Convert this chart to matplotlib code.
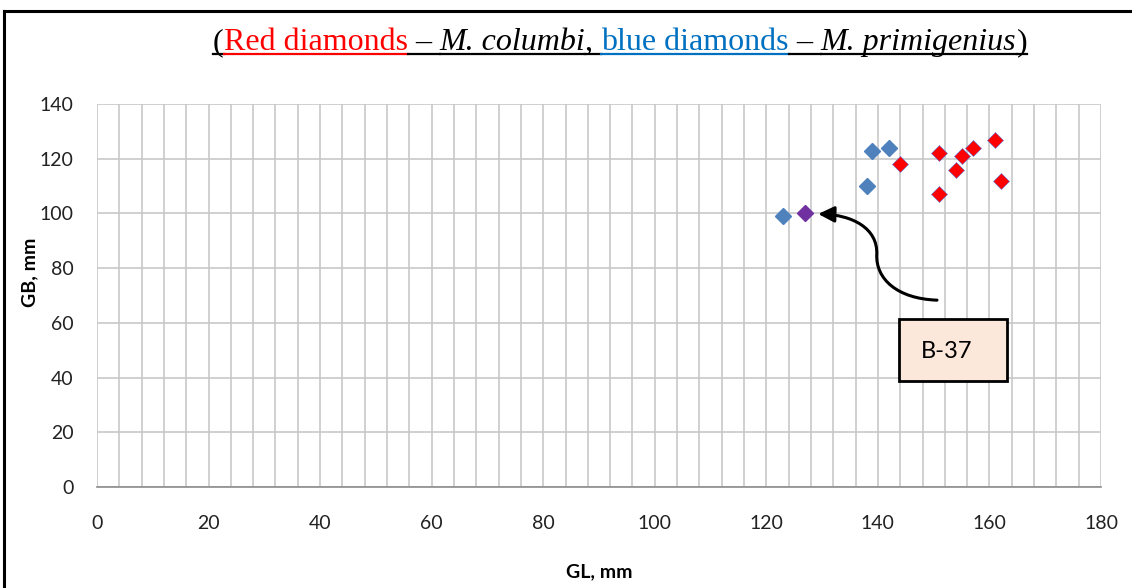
import matplotlib
matplotlib.use("Agg")
import matplotlib.pyplot as plt
from matplotlib.path import Path
from matplotlib.patches import FancyArrowPatch, Rectangle
from matplotlib.lines import Line2D

# M. columbi (red), M. primigenius (blue), B-37 (purple)
red_gl = [144, 151, 151, 154, 155, 157, 161, 162]
red_gb = [118, 122, 107, 116, 121, 124, 127, 112]
blue_gl = [123, 138, 139, 142]
blue_gb = [99, 110, 123, 124]
b37_gl = [127]
b37_gb = [100]

W, H = 1132, 588
fig = plt.figure(figsize=(W / 100, H / 100), dpi=100)
ax = fig.add_axes([97 / W, 1 - 487 / H, (1101 - 97) / W, (487 - 104) / H])

ax.plot(blue_gl, blue_gb, "D", color="#4F81BD", markersize=8.5,
        markeredgecolor="#4F81BD", zorder=3, clip_on=False)
ax.plot(red_gl, red_gb, "D", color="#FF0000", markersize=8.5,
        markeredgecolor="#5B6FD0", markeredgewidth=0.4, zorder=3, clip_on=False)
ax.plot(b37_gl, b37_gb, "D", color="#7030A0", markersize=8.5,
        markeredgecolor="#7030A0", zorder=3, clip_on=False)

ax.set_xlim(0, 180)
ax.set_ylim(0, 140)
ax.set_xticks(range(0, 181, 20))
ax.set_xticks(range(0, 181, 4), minor=True)
ax.set_yticks(range(0, 141, 20))
ax.grid(which="both", color="#C8C8C8", linewidth=1.2)
ax.set_axisbelow(True)
ax.tick_params(which="both", length=0)
ax.tick_params(axis="x", pad=20, labelsize=14)
ax.tick_params(axis="y", pad=17, labelsize=14)
for lbl in ax.get_xticklabels() + ax.get_yticklabels():
    lbl.set_family("Lato")
    lbl.set_color("#222222")
for side in ["top", "right", "left"]:
    ax.spines[side].set_visible(False)
ax.spines["bottom"].set_color("#8C8C8C")
ax.spines["bottom"].set_linewidth(1.2)

# axis titles
fig.text(599 / W, 1 - 572 / H, "GL, mm", fontsize=14, fontweight="bold",
         family="Lato", ha="center", va="center")
fig.text(30 / W, 1 - 272 / H, "GB, mm", fontsize=14, fontweight="bold",
         family="Lato", ha="center", va="center", rotation=90)

# curved arrow pointing at B-37
verts = [(150.6, 68.3), (143.5, 68.8), (139.6, 76.0), (139.8, 85.0),
         (140.0, 94.5), (135.5, 99.5), (129.3, 99.8)]
codes = [Path.MOVETO] + [Path.CURVE4] * 6
arrow = FancyArrowPatch(path=Path(verts, codes), arrowstyle="-|>",
                        mutation_scale=24, color="black", linewidth=2.2, zorder=4)
ax.add_patch(arrow)

# B-37 callout box
fig.add_artist(Rectangle((899 / W, 1 - 381 / H), 108 / W, 62 / H, transform=fig.transFigure,
                         facecolor="#FCE8DA", edgecolor="black", linewidth=2, zorder=5))
fig.text(947 / W, 1 - 351 / H, "B-37", fontsize=17, family="Lato",
         ha="center", va="center", zorder=6)

# figure frame (top and left)
fig.add_artist(Line2D([4 / W, 4 / W], [0, 1 - 11 / H], color="black", linewidth=2.2,
                      transform=fig.transFigure))
fig.add_artist(Line2D([4 / W, 1], [1 - 11 / H, 1 - 11 / H], color="black", linewidth=2.2,
                      transform=fig.transFigure))

# title with coloured, underlined pieces
pieces = [("(", "black", "normal"),
          ("Red diamonds", "#FF0000", "normal"),
          (" \u2013 ", "black", "normal"),
          ("M. columbi", "black", "italic"),
          (", ", "black", "normal"),
          ("blue diamonds", "#0070C0", "normal"),
          (" \u2013 ", "black", "normal"),
          ("M. primigenius", "black", "italic"),
          (")", "black", "normal")]
fig.canvas.draw()
renderer = fig.canvas.get_renderer()
x = 213
base_y = H - 50
for txt, col, style in pieces:
    t = fig.text(x / W, base_y / H, txt, color=col, style=style, fontsize=23,
                 family="Liberation Serif", va="baseline", ha="left")
    bb = t.get_window_extent(renderer)
    fig.add_artist(Line2D([x / W, (x + bb.width) / W], [(base_y - 4) / H] * 2,
                          color=col, linewidth=1.6, transform=fig.transFigure))
    x += bb.width

fig.savefig("out.png", dpi=100)
